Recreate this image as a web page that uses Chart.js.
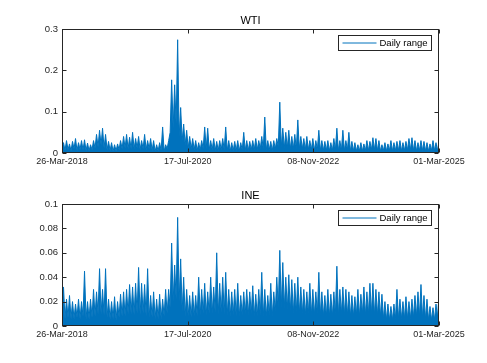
<!DOCTYPE html>
<html lang="en">
<head>
  <meta charset="UTF-8" />
  <title>WTI and INE daily range</title>
  <script src="https://cdn.jsdelivr.net/npm/chart.js"></script>
  <style>
    body { margin: 0; background: #fff; }
    .panel { position: absolute; left: 0; width: 487px; }
  </style>
</head>
<body>
  <div class="panel" style="top:0;height:181px"><canvas id="wtiChart"></canvas></div>
  <div class="panel" style="top:181px;height:182px"><canvas id="ineChart"></canvas></div>

  <script>
    // tick labels on the date axis (evenly spaced)
    const dateLabels = ["26-Mar-2018", "17-Jul-2020", "08-Nov-2022", "01-Mar-2025"];
    const wtiTicks = [0, 0.1, 0.2, 0.3];
    const ineTicks = [0, 0.02, 0.04, 0.06, 0.08, 0.1];

    // daily range, read as upper / lower envelope per short time slice
    const wtiHigh = [0.025, 0.03, 0.022, 0.028, 0.035, 0.025, 0.03, 0.032, 0.024, 0.02,
      0.03, 0.045, 0.055, 0.06, 0.045, 0.028, 0.025, 0.02, 0.022, 0.03,
      0.04, 0.045, 0.038, 0.05, 0.035, 0.04, 0.03, 0.045, 0.03, 0.035,
      0.03, 0.02, 0.025, 0.063, 0.02, 0.03, 0.177, 0.165, 0.274, 0.11,
      0.07, 0.055, 0.04, 0.035, 0.03, 0.025, 0.03, 0.063, 0.06, 0.03,
      0.035, 0.028, 0.03, 0.035, 0.063, 0.03, 0.025, 0.028, 0.03, 0.025,
      0.05, 0.03, 0.028, 0.03, 0.035, 0.03, 0.04, 0.087, 0.03, 0.028,
      0.03, 0.035, 0.123, 0.06, 0.05, 0.055, 0.04, 0.045, 0.08, 0.04,
      0.035, 0.04, 0.03, 0.035, 0.03, 0.055, 0.03, 0.028, 0.03, 0.025,
      0.035, 0.06, 0.03, 0.055, 0.03, 0.05, 0.028, 0.025, 0.02, 0.025,
      0.022, 0.03, 0.028, 0.037, 0.035, 0.03, 0.02, 0.025, 0.022, 0.03,
      0.025, 0.028, 0.03, 0.025, 0.028, 0.035, 0.037, 0.03, 0.025, 0.03,
      0.028, 0.025, 0.022, 0.03, 0.025, 0.03];
    const wtiLow = [0.008, 0.006, 0.008, 0.005, 0.01, 0.006, 0.008, 0.007, 0.006, 0.005,
      0.008, 0.012, 0.015, 0.02, 0.012, 0.008, 0.006, 0.004, 0.005, 0.008,
      0.01, 0.012, 0.01, 0.01, 0.01, 0.012, 0.008, 0.01, 0.008, 0.01,
      0.006, 0.004, 0.005, 0.006, 0.004, 0.01, 0.05, 0.06, 0.07, 0.04,
      0.03, 0.02, 0.012, 0.01, 0.008, 0.006, 0.007, 0.01, 0.01, 0.008,
      0.008, 0.006, 0.006, 0.008, 0.008, 0.006, 0.005, 0.006, 0.006, 0.005,
      0.007, 0.006, 0.006, 0.008, 0.008, 0.008, 0.01, 0.01, 0.008, 0.008,
      0.006, 0.01, 0.015, 0.015, 0.012, 0.012, 0.01, 0.01, 0.01, 0.01,
      0.01, 0.008, 0.008, 0.008, 0.006, 0.008, 0.006, 0.006, 0.006, 0.005,
      0.006, 0.007, 0.006, 0.006, 0.006, 0.007, 0.005, 0.005, 0.005, 0.005,
      0.005, 0.006, 0.006, 0.008, 0.008, 0.006, 0.005, 0.006, 0.005, 0.006,
      0.005, 0.006, 0.006, 0.005, 0.006, 0.007, 0.008, 0.006, 0.005, 0.006,
      0.006, 0.005, 0.005, 0.006, 0.006, 0.005];

    const ineHigh = [0.032, 0.022, 0.025, 0.02, 0.018, 0.022, 0.02, 0.045, 0.02, 0.022,
      0.03, 0.028, 0.047, 0.03, 0.047, 0.022, 0.02, 0.024, 0.02, 0.026,
      0.028, 0.03, 0.034, 0.032, 0.035, 0.048, 0.035, 0.034, 0.047, 0.025,
      0.028, 0.022, 0.026, 0.022, 0.03, 0.03, 0.068, 0.05, 0.089, 0.055,
      0.04, 0.03, 0.025, 0.028, 0.025, 0.04, 0.03, 0.035, 0.028, 0.04,
      0.032, 0.06, 0.035, 0.04, 0.044, 0.03, 0.028, 0.03, 0.035, 0.025,
      0.028, 0.03, 0.028, 0.033, 0.026, 0.03, 0.044, 0.03, 0.025, 0.035,
      0.028, 0.04, 0.062, 0.052, 0.04, 0.042, 0.038, 0.035, 0.04, 0.032,
      0.03, 0.028, 0.035, 0.03, 0.028, 0.044, 0.028, 0.025, 0.03, 0.026,
      0.028, 0.049, 0.03, 0.032, 0.03, 0.028, 0.025, 0.024, 0.03, 0.026,
      0.032, 0.028, 0.035, 0.035, 0.03, 0.028, 0.026, 0.02, 0.018, 0.016,
      0.018, 0.03, 0.022, 0.02, 0.024, 0.02, 0.022, 0.025, 0.028, 0.034,
      0.025, 0.022, 0.016, 0.015, 0.018, 0.025];
    const ineLow = [0.008, 0.006, 0.007, 0.006, 0.006, 0.007, 0.006, 0.008, 0.006, 0.006,
      0.007, 0.008, 0.01, 0.01, 0.009, 0.007, 0.006, 0.006, 0.005, 0.007,
      0.008, 0.008, 0.01, 0.01, 0.009, 0.01, 0.009, 0.01, 0.008, 0.007,
      0.007, 0.006, 0.006, 0.006, 0.008, 0.01, 0.015, 0.02, 0.022, 0.02,
      0.012, 0.008, 0.008, 0.007, 0.008, 0.008, 0.009, 0.01, 0.009, 0.01,
      0.01, 0.011, 0.01, 0.011, 0.01, 0.009, 0.008, 0.009, 0.008, 0.008,
      0.009, 0.01, 0.009, 0.01, 0.008, 0.008, 0.009, 0.008, 0.008, 0.009,
      0.008, 0.012, 0.015, 0.015, 0.015, 0.014, 0.012, 0.01, 0.011, 0.01,
      0.01, 0.009, 0.01, 0.009, 0.009, 0.01, 0.009, 0.008, 0.008, 0.008,
      0.008, 0.009, 0.009, 0.01, 0.009, 0.009, 0.008, 0.008, 0.009, 0.008,
      0.01, 0.009, 0.01, 0.01, 0.009, 0.009, 0.008, 0.006, 0.005, 0.005,
      0.005, 0.006, 0.006, 0.006, 0.006, 0.006, 0.006, 0.007, 0.008, 0.008,
      0.007, 0.006, 0.005, 0.005, 0.005, 0.007];

    const axisColor = "#262626";
    const lineColor = "#0072BD";

    // each slice gives two points: its low, then its high
    function toPoints(low, high) {
      const pts = [];
      low.forEach((v, i) => {
        pts.push({ x: 2 * i, y: v });
        pts.push({ x: 2 * i + 1, y: high[i] });
      });
      return pts;
    }

    function line(ctx, x1, y1, x2, y2) {
      ctx.beginPath();
      ctx.moveTo(x1, y1);
      ctx.lineTo(x2, y2);
      ctx.stroke();
    }

    // box, inward ticks, title and boxed legend like the original figure
    const matlabFrame = {
      id: "matlabFrame",
      afterDraw(chart, args, opts) {
        const { ctx, chartArea: a, scales: { x, y } } = chart;
        ctx.save();
        ctx.strokeStyle = axisColor;
        ctx.lineWidth = 1;
        const L = Math.round(a.left) + 0.5, R = Math.round(a.right) - 0.5;
        const T = Math.round(a.top) + 0.5, B = Math.round(a.bottom) - 0.5;
        ctx.strokeRect(L, T, R - L, B - T);
        y.ticks.forEach(t => {
          const py = Math.round(y.getPixelForValue(t.value)) + 0.5;
          line(ctx, L, py, L + 4, py);
          line(ctx, R, py, R - 4, py);
        });
        x.ticks.forEach(t => {
          const px = Math.round(x.getPixelForValue(t.value)) + 0.5;
          line(ctx, px, B, px, B - 4);
          line(ctx, px, T, px, T + 4);
        });

        ctx.fillStyle = "#000";
        ctx.font = "11px 'Liberation Sans', Arial, sans-serif";
        ctx.textAlign = "center";
        ctx.textBaseline = "alphabetic";
        ctx.fillText(opts.title, (a.left + a.right) / 2, a.top - 5);

        // legend
        const bx = 338.5, by = Math.round(a.top) + 6.5, bw = 93, bh = 15;
        ctx.fillStyle = "#fff";
        ctx.fillRect(bx, by, bw, bh);
        ctx.strokeStyle = axisColor;
        ctx.strokeRect(bx, by, bw, bh);
        ctx.strokeStyle = lineColor;
        line(ctx, bx + 4, by + bh / 2, bx + 38, by + bh / 2);
        ctx.fillStyle = "#000";
        ctx.font = "9.5px 'Liberation Sans', Arial, sans-serif";
        ctx.textAlign = "left";
        ctx.textBaseline = "middle";
        ctx.fillText("Daily range", bx + 41, by + bh / 2 + 0.5);
        ctx.restore();
      }
    };

    function makeChart(id, title, low, high, yTicks, areaTop, areaBottom, canvasH) {
      const n = low.length;
      const xMax = 2 * n - 1;
      const xTickPos = [0, xMax / 3, 2 * xMax / 3, xMax];
      return new Chart(document.getElementById(id), {
        type: "line",
        data: {
          datasets: [{
            label: "Daily range",
            data: toPoints(low, high),
            borderColor: lineColor,
            backgroundColor: lineColor,
            borderWidth: 1,
            pointRadius: 0,
            tension: 0,
            fill: "origin"
          }]
        },
        options: {
          responsive: true,
          maintainAspectRatio: false,
          animation: false,
          layout: { padding: { top: areaTop, right: 48, left: 0, bottom: 0 } },
          plugins: {
            legend: { display: false },
            tooltip: { enabled: false },
            matlabFrame: { title: title }
          },
          scales: {
            x: {
              type: "linear",
              min: 0,
              max: xMax,
              grid: { display: false, drawTicks: false },
              border: { display: false },
              afterBuildTicks: s => { s.ticks = xTickPos.map(v => ({ value: v })); },
              afterFit: s => { s.height = canvasH - areaBottom; },
              ticks: {
                autoSkip: false,
                maxRotation: 0,
                padding: 3,
                color: axisColor,
                font: { family: "'Liberation Sans', Arial, sans-serif", size: 9 },
                callback: (v, i) => dateLabels[i]
              }
            },
            y: {
              min: 0,
              max: yTicks[yTicks.length - 1],
              grid: { display: false, drawTicks: false },
              border: { display: false },
              afterBuildTicks: s => { s.ticks = yTicks.map(v => ({ value: v })); },
              afterFit: s => { s.width = 62; },
              ticks: {
                padding: 4,
                color: axisColor,
                font: { family: "'Liberation Sans', Arial, sans-serif", size: 9.5 },
                callback: v => String(+v.toFixed(2))
              }
            }
          }
        },
        plugins: [matlabFrame]
      });
    }

    makeChart("wtiChart", "WTI", wtiLow, wtiHigh, wtiTicks, 29, 153, 181);
    makeChart("ineChart", "INE", ineLow, ineHigh, ineTicks, 23, 145, 182);
  </script>
</body>
</html>
